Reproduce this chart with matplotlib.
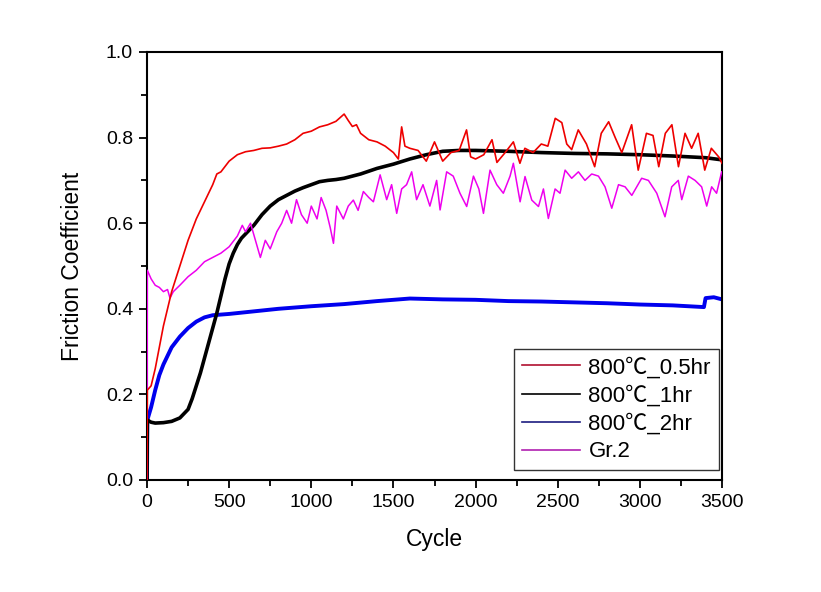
import matplotlib
matplotlib.use("Agg")
import matplotlib.pyplot as plt
from matplotlib.lines import Line2D
from matplotlib.ticker import MultipleLocator

plt.rcParams['font.family'] = ['Liberation Sans', 'Noto Sans CJK SC', 'DejaVu Sans']

# ---- data ----
red_cycles = [0, 2, 25, 50, 75, 100, 125, 150, 175, 200, 250, 300, 350, 400, 425, 450, 500, 550,
              600, 650, 700, 750, 800, 850, 900, 950, 1000, 1050, 1100, 1150, 1200, 1225, 1250,
              1275, 1300, 1350, 1400, 1450, 1500, 1530, 1550, 1570, 1600, 1650, 1700, 1750, 1800,
              1850, 1900, 1945, 1970, 2000, 2050, 2100, 2130, 2180, 2230, 2270, 2300, 2350, 2400,
              2440, 2485, 2525, 2555, 2585, 2625, 2675, 2725, 2765, 2810, 2850, 2890, 2950, 2990,
              3040, 3080, 3115, 3155, 3195, 3235, 3275, 3315, 3355, 3395, 3435, 3480, 3500]
red_values = [0.0, 0.21, 0.22, 0.26, 0.31, 0.36, 0.40, 0.44, 0.47, 0.50, 0.56, 0.61, 0.65, 0.69,
              0.715, 0.72, 0.745, 0.76, 0.767, 0.77, 0.775, 0.776, 0.78, 0.785, 0.795, 0.81, 0.815,
              0.825, 0.83, 0.838, 0.855, 0.84, 0.826, 0.83, 0.81, 0.795, 0.79, 0.78, 0.765, 0.75,
              0.825, 0.78, 0.775, 0.77, 0.745, 0.79, 0.745, 0.765, 0.77, 0.818, 0.755, 0.75, 0.76,
              0.795, 0.742, 0.765, 0.79, 0.74, 0.775, 0.765, 0.785, 0.78, 0.845, 0.835, 0.785,
              0.772, 0.818, 0.785, 0.732, 0.81, 0.837, 0.80, 0.765, 0.83, 0.724, 0.81, 0.805,
              0.732, 0.81, 0.83, 0.732, 0.81, 0.775, 0.81, 0.724, 0.775, 0.755, 0.74]

black_cycles = [0, 2, 25, 50, 100, 150, 200, 250, 275, 300, 325, 350, 375, 400, 425, 450, 475, 500,
                525, 550, 575, 600, 650, 700, 750, 800, 850, 900, 950, 1000, 1050, 1100, 1150,
                1200, 1250, 1300, 1400, 1500, 1600, 1700, 1800, 1900, 2000, 2200, 2400, 2600,
                2800, 3000, 3200, 3400, 3500]
black_values = [0.0, 0.14, 0.135, 0.133, 0.134, 0.137, 0.145, 0.165, 0.19, 0.22, 0.25, 0.285, 0.32,
                0.355, 0.39, 0.43, 0.47, 0.505, 0.53, 0.55, 0.565, 0.575, 0.595, 0.62, 0.64, 0.655,
                0.665, 0.675, 0.683, 0.69, 0.697, 0.70, 0.702, 0.705, 0.71, 0.715, 0.728, 0.738,
                0.75, 0.76, 0.768, 0.77, 0.77, 0.768, 0.765, 0.763, 0.762, 0.76, 0.757, 0.753, 0.748]

blue_cycles = [0, 2, 25, 50, 75, 100, 125, 150, 200, 250, 300, 350, 400, 500, 600, 700, 800, 900,
               1000, 1200, 1400, 1600, 1800, 2000, 2200, 2400, 2600, 2800, 3000, 3200, 3390, 3400,
               3450, 3500]
blue_values = [0.0, 0.14, 0.17, 0.21, 0.245, 0.27, 0.29, 0.31, 0.335, 0.355, 0.37, 0.38, 0.385,
               0.388, 0.392, 0.396, 0.40, 0.403, 0.406, 0.411, 0.418, 0.424, 0.422, 0.421, 0.418,
               0.417, 0.415, 0.413, 0.41, 0.408, 0.404, 0.425, 0.427, 0.422]

mag_cycles = [0, 2, 25, 50, 75, 100, 125, 140, 160, 200, 250, 300, 350, 400, 450, 500, 550, 580,
              600, 630, 660, 690, 720, 750, 790, 820, 850, 880, 910, 940, 975, 1000, 1035, 1060,
              1090, 1115, 1135, 1155, 1195, 1225, 1256, 1285, 1317, 1350, 1378, 1419, 1459, 1489,
              1520, 1550, 1580, 1611, 1641, 1680, 1722, 1763, 1784, 1824, 1864, 1905, 1946, 1987,
              2020, 2048, 2088, 2129, 2169, 2210, 2230, 2271, 2301, 2342, 2383, 2413, 2443, 2484,
              2514, 2545, 2585, 2626, 2666, 2707, 2748, 2788, 2829, 2870, 2910, 2951, 3011, 3052,
              3103, 3153, 3194, 3234, 3255, 3295, 3336, 3376, 3407, 3437, 3467, 3498]
mag_values = [0.0, 0.49, 0.47, 0.455, 0.45, 0.44, 0.445, 0.425, 0.44, 0.455, 0.475, 0.49, 0.51,
              0.52, 0.53, 0.545, 0.57, 0.595, 0.58, 0.60, 0.56, 0.52, 0.56, 0.54, 0.58, 0.60, 0.63,
              0.60, 0.655, 0.62, 0.60, 0.64, 0.61, 0.66, 0.63, 0.59, 0.553, 0.64, 0.61, 0.64, 0.654,
              0.63, 0.674, 0.66, 0.65, 0.713, 0.655, 0.69, 0.623, 0.68, 0.69, 0.72, 0.655, 0.69,
              0.64, 0.70, 0.631, 0.72, 0.71, 0.67, 0.639, 0.71, 0.68, 0.623, 0.724, 0.69, 0.67,
              0.71, 0.74, 0.65, 0.709, 0.654, 0.639, 0.68, 0.611, 0.68, 0.67, 0.724, 0.705, 0.72,
              0.70, 0.715, 0.71, 0.685, 0.635, 0.69, 0.685, 0.665, 0.705, 0.70, 0.67, 0.615, 0.685,
              0.70, 0.655, 0.71, 0.70, 0.685, 0.64, 0.685, 0.67, 0.72]

legend_labels = ['800\u2103_0.5hr', '800\u2103_1hr', '800\u2103_2hr', 'Gr.2']
legend_colors = ['#b01030', '#000000', '#1c1c80', '#b020b0']

x_ticks = [0, 500, 1000, 1500, 2000, 2500, 3000, 3500]
y_ticks = [0.0, 0.2, 0.4, 0.6, 0.8, 1.0]

# ---- figure ----
fig = plt.figure(figsize=(8.21, 5.92), dpi=100)
ax = fig.add_axes([147 / 821, 1 - 480 / 592, 575 / 821, 428 / 592])

ax.plot(blue_cycles, blue_values, color='#0000ee', lw=2.8, zorder=2)
ax.plot(black_cycles, black_values, color='black', lw=2.6, zorder=3)
ax.plot(mag_cycles, mag_values, color='#ee00ee', lw=1.1, zorder=4)
ax.plot(red_cycles, red_values, color='#ee0000', lw=1.2, zorder=5)

ax.set_xlim(0, 3500)
ax.set_ylim(0, 1.0)
ax.set_xticks(x_ticks)
ax.set_yticks(y_ticks)
ax.set_yticklabels([f'{v:.1f}' for v in y_ticks])
ax.xaxis.set_minor_locator(MultipleLocator(250))
ax.yaxis.set_minor_locator(MultipleLocator(0.1))
ax.tick_params(which='major', direction='out', length=6, width=1.3, labelsize=14, pad=4)
ax.tick_params(which='minor', direction='out', length=4, width=1.3)
for s in ax.spines.values():
    s.set_linewidth(1.5)

ax.set_xlabel('Cycle', fontsize=16.5, labelpad=12)
ax.set_ylabel('Friction Coefficient', fontsize=16.5, labelpad=16)

handles = [Line2D([0], [0], color=c, lw=1.2) for c in legend_colors]
leg = ax.legend(handles, legend_labels, loc='lower right', bbox_to_anchor=(0.994, 0.023),
                fontsize=16, frameon=True, fancybox=False, edgecolor='black',
                handlelength=2.6, handletextpad=0.4, labelspacing=0.3, borderpad=0.35,
                borderaxespad=0)
leg.get_frame().set_linewidth(1.0)

fig.savefig('out.png', dpi=100)
